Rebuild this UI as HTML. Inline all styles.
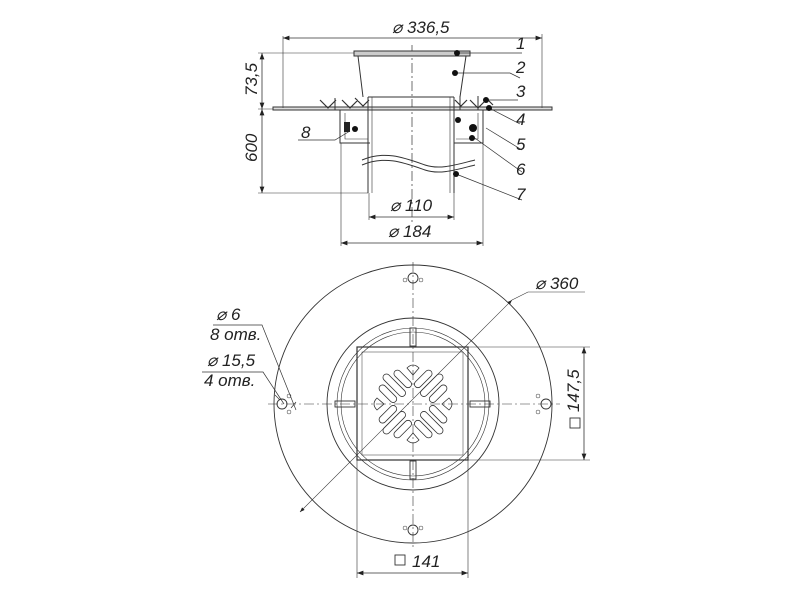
<!DOCTYPE html>
<html><head><style>html,body{margin:0;padding:0;background:#fff}svg{display:block}
text{font-family:"Liberation Sans",sans-serif;font-style:italic;fill:#222}</style></head><body>
<svg width="800" height="596" viewBox="0 0 800 596" xmlns="http://www.w3.org/2000/svg">
<defs><marker id="a" markerWidth="8" markerHeight="6" refX="8" refY="3" orient="auto-start-reverse"><path d="M0,0 L8,3 L0,6z" fill="#222"/></marker></defs>
<g stroke="#333" stroke-width="1" fill="none">
<line x1="412" y1="45" x2="412" y2="225" stroke-dasharray="10,3,2,3" stroke-width="0.7"/>
<rect x="273" y="107" width="279" height="3" fill="#ddd"/>
<rect x="354" y="51" width="116" height="5" fill="#ccc"/>
<path d="M358,56 L363,97 M466,56 L460,97"/>
<path d="M368,97 L368,193 M454,97 L454,193 M368,97 L454,97" />
<path d="M372,97 L372,193 M450,97 L450,193" stroke-width="0.6"/>
<path d="M368,110 L340,110 L340,143 L370,143 M454,110 L483,110 L483,143 L454,143"/>
<path d="M345,113 L345,139 L368,139 M478,113 L478,139 L456,139" stroke-width="0.6"/>
<path d="M320,100 l8,8 l8,-8 M342,100 l8,8 l8,-8 M355,98 l8,8 l6,-6 M455,100 l6,6 l6,-6 M470,100 l8,8 l8,-8 M488,100 l5,5" stroke-width="1.2"/>
<path d="M335,98 v12 M460,96 v14 M478,96 v14" />
<rect x="344" y="122" width="6" height="10" fill="#222" stroke="none"/>
<path d="M362,160 C385,150 405,158 425,165 C440,170 455,165 475,160"/>
<path d="M362,165 C385,155 405,163 425,170 C440,175 455,170 475,165"/>
<line x1="283" y1="38" x2="542" y2="38" marker-start="url(#a)" marker-end="url(#a)" stroke-width="0.8"/>
<path d="M283,36 V108 M542,34 V108" stroke-width="0.6"/>
<line x1="262" y1="53" x2="262" y2="109" marker-start="url(#a)" marker-end="url(#a)" stroke-width="0.8"/>
<line x1="262" y1="109" x2="262" y2="193" marker-start="url(#a)" marker-end="url(#a)" stroke-width="0.8"/>
<path d="M258,53 H354 M258,193 H368 M258,109 H273" stroke-width="0.6"/>
<line x1="369" y1="217" x2="454" y2="217" marker-start="url(#a)" marker-end="url(#a)" stroke-width="0.8"/>
<line x1="341" y1="243" x2="483" y2="243" marker-start="url(#a)" marker-end="url(#a)" stroke-width="0.8"/>
<path d="M369,193 V220 M454,193 V220 M341,143 V246 M483,143 V246" stroke-width="0.6"/>
<path d="M457,53 H522 M455,73 H510 L520,78 M487,100 H518 M489,108 L520,124 M486,128 L522,150 M472,136 L522,172 M456,174 L522,200 M350,131 L335,140 H298" stroke-width="0.7"/>
</g>
<g fill="#111"><circle cx="457" cy="53" r="3"/><circle cx="455" cy="73" r="3"/><circle cx="486" cy="100" r="3"/><circle cx="489" cy="108" r="3"/><circle cx="458" cy="120" r="3"/><circle cx="473" cy="128" r="4"/><circle cx="472" cy="138" r="3"/><circle cx="456" cy="174" r="3"/><circle cx="355" cy="129" r="3"/></g>
<g font-size="17">
<text x="392" y="33">⌀ 336,5</text>
<text x="516" y="49">1</text><text x="516" y="73">2</text><text x="516" y="97">3</text><text x="516" y="125">4</text><text x="516" y="150">5</text><text x="516" y="175">6</text><text x="516" y="200">7</text>
<text x="301" y="138">8</text>
<text x="390" y="211">⌀ 110</text><text x="388" y="237">⌀ 184</text>
<text transform="translate(257,96) rotate(-90)">73,5</text>
<text transform="translate(257,162) rotate(-90)">600</text>
</g>
<g stroke="#333" stroke-width="0.9" fill="none">
<circle cx="413" cy="404" r="139"/>
<circle cx="413" cy="404" r="86"/>
<circle cx="413" cy="404" r="76" stroke-width="0.6"/>
<circle cx="413" cy="404" r="72" stroke-width="0.6"/>
<path d="M268,404 H560 M413,262 V548" stroke-dasharray="10,3,2,3" stroke-width="0.6"/>
<rect x="357" y="347" width="111" height="113" stroke-width="1.2"/>
<rect x="362" y="352" width="101" height="103" stroke-width="0.5"/>
<line x1="300" y1="512" x2="512" y2="300" stroke-width="0.6" marker-start="url(#a)" marker-end="url(#a)"/>
<path d="M512,300 L528,292 H585" stroke-width="0.6"/>
<circle cx="413" cy="278" r="5"/><circle cx="413" cy="530" r="5"/><circle cx="546" cy="404" r="5"/><circle cx="282" cy="404" r="5"/>
<g stroke-width="0.5"><circle cx="405" cy="280" r="2"/><circle cx="421" cy="280" r="2"/><circle cx="405" cy="528" r="2"/><circle cx="421" cy="528" r="2"/><circle cx="538" cy="396" r="2"/><circle cx="538" cy="412" r="2"/><circle cx="289" cy="396" r="2"/><circle cx="289" cy="412" r="2"/></g>
<rect x="410" y="328" width="6" height="18"/><rect x="410" y="461" width="6" height="18"/><rect x="335" y="401" width="20" height="6"/><rect x="470" y="401" width="20" height="6"/>
<g transform="translate(413,404)" stroke-width="0.8">
<g transform="rotate(45)"><rect x="14" y="-14" width="22" height="7" rx="3.5"/><rect x="12" y="-3.5" width="29" height="7" rx="3.5"/><rect x="14" y="7" width="22" height="7" rx="3.5"/></g>
<g transform="rotate(135)"><rect x="14" y="-14" width="22" height="7" rx="3.5"/><rect x="12" y="-3.5" width="29" height="7" rx="3.5"/><rect x="14" y="7" width="22" height="7" rx="3.5"/></g>
<g transform="rotate(225)"><rect x="14" y="-14" width="22" height="7" rx="3.5"/><rect x="12" y="-3.5" width="29" height="7" rx="3.5"/><rect x="14" y="7" width="22" height="7" rx="3.5"/></g>
<g transform="rotate(315)"><rect x="14" y="-14" width="22" height="7" rx="3.5"/><rect x="12" y="-3.5" width="29" height="7" rx="3.5"/><rect x="14" y="7" width="22" height="7" rx="3.5"/></g>
<path d="M-6,-36 q6,-6 12,0 l-6,7 z M-6,36 q6,6 12,0 l-6,-7 z M-36,-6 q-6,6 0,12 l7,-6 z M36,-6 q6,6 0,12 l-7,-6 z"/>
</g>
<path d="M468,347 H590 M468,460 H590 M357,460 V578 M468,460 V578" stroke-width="0.6"/>
<line x1="584" y1="347" x2="584" y2="460" marker-start="url(#a)" marker-end="url(#a)" stroke-width="0.8"/>
<line x1="357" y1="573" x2="468" y2="573" marker-start="url(#a)" marker-end="url(#a)" stroke-width="0.8"/>
<rect x="395" y="555" width="10" height="10"/>
<rect x="570" y="418" width="10" height="10"/>
<path d="M213,325 H262 L296,410 M202,372 H263 L284,404 M275,395 l5,5 M296,402 l-5,6" stroke-width="0.7"/>
</g>
<g font-size="17">
<text x="535" y="289">⌀ 360</text>
<text x="412" y="567">141</text>
<text transform="translate(579,412) rotate(-90)">147,5</text>
<text x="216" y="320">⌀ 6</text>
<text x="210" y="340">8  отв.</text>
<text x="207" y="366">⌀ 15,5</text>
<text x="204" y="386">4  отв.</text>
</g>
</svg>
</body></html>
